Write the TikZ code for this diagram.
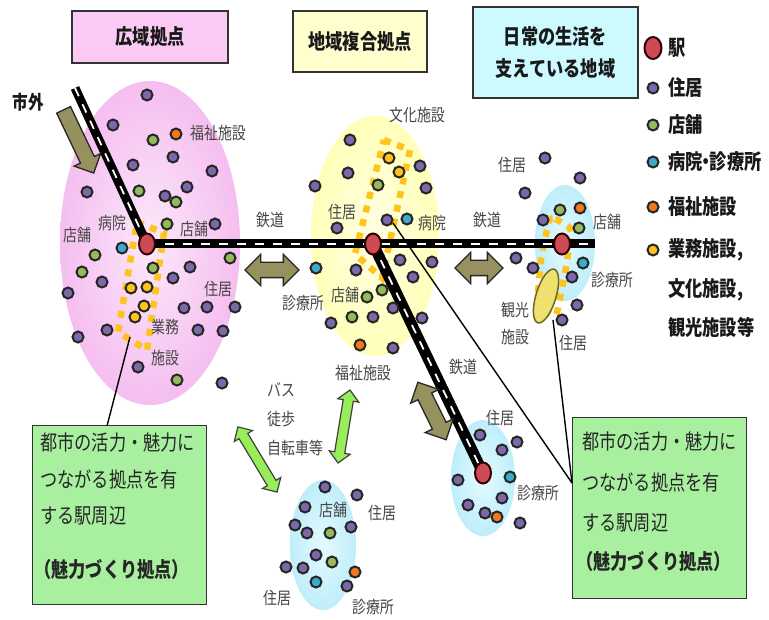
\documentclass[tikz,border=0pt]{standalone}
\usepackage{fontspec}
\newfontfamily\jp{Noto Sans CJK JP}[FakeStretch=0.82]
\usetikzlibrary{shapes.arrows,shapes.geometric}
\definecolor{cresid}{RGB}{125,105,170}
\definecolor{cshop}{RGB}{150,185,90}
\definecolor{chosp}{RGB}{60,170,200}
\definecolor{cwelf}{RGB}{240,120,30}
\definecolor{cbiz}{RGB}{255,195,30}
\definecolor{cstat}{RGB}{205,75,85}
\definecolor{pinkout}{RGB}{245,190,240}
\definecolor{pinkin}{RGB}{252,232,250}
\definecolor{yelout}{RGB}{255,255,185}
\definecolor{yelin}{RGB}{255,255,228}
\definecolor{cyaout}{RGB}{190,238,250}
\definecolor{cyain}{RGB}{228,250,255}
\definecolor{tpink}{RGB}{250,202,245}
\definecolor{tyel}{RGB}{255,255,205}
\definecolor{tcya}{RGB}{205,250,255}
\definecolor{cgreen}{RGB}{168,240,160}
\definecolor{colive}{RGB}{150,145,95}
\definecolor{cgarr}{RGB}{150,238,90}
\definecolor{labc}{RGB}{70,70,70}
\definecolor{kanko}{RGB}{240,225,110}
\begin{document}
\begin{tikzpicture}[x=1pt,y=-1pt,
 dotbase/.style={circle, draw=black!85, line width=2pt, minimum size=11pt, inner sep=0pt},
 resid/.style={dotbase, fill=cresid},
 shop/.style={dotbase, fill=cshop},
 hosp/.style={dotbase, fill=chosp},
 welf/.style={dotbase, fill=cwelf},
 biz/.style={dotbase, fill=cbiz},
 station/.style={ellipse, draw=black!80!red, line width=2pt, fill=cstat, minimum width=16pt, minimum height=21pt, inner sep=0pt},
 lab/.style={font=\jp\fontsize{17}{19}\selectfont, text=labc, inner sep=0pt},
 legtxt/.style={font=\jp\bfseries\fontsize{21}{23}\selectfont, text=black!90, anchor=west, inner sep=0pt},
 boxtxt/.style={font=\jp\fontsize{21}{23}\selectfont, text=black!85, anchor=west, inner sep=0pt},
 boxbold/.style={boxtxt, font=\jp\bfseries\fontsize{21}{23}\selectfont},
 titlebox/.style={draw=black!80, line width=1.2pt, inner sep=0pt, font=\jp\bfseries\fontsize{21}{32}\selectfont, align=center, text=black!90},
 gbox/.style={draw=black!80, line width=1pt, fill=cgreen, inner sep=0pt},
 railo/.style={line width=9pt, black},
 raili/.style={line width=1.8pt, white, dash pattern=on 9pt off 9pt},
 ydash/.style={draw=cbiz, line width=6.5pt, dash pattern=on 7pt off 7pt},
 oarrow/.style={double arrow, draw=black!85, line width=1.3pt, fill=colive, inner xsep=0pt, inner ysep=7pt, double arrow head extend=8pt, minimum width=0pt},
 garrow/.style={double arrow, draw=black!75, line width=1.2pt, fill=cgarr, inner xsep=0pt, inner ysep=4.5pt, double arrow head extend=5.5pt, minimum width=0pt},
 sarrow/.style={single arrow, draw=black!85, line width=1.3pt, fill=colive, inner xsep=0pt, inner ysep=7pt, single arrow head extend=7pt, minimum width=0pt},
 callout/.style={line width=1.4pt, black}
]
\useasboundingbox (0,0) rectangle (769,620);
\fill[white] (0,0) rectangle (769,620);

% regions
\shade[inner color=pinkin, outer color=pinkout] (150,243) ellipse [x radius=90pt, y radius=162pt];
\shade[inner color=yelin, outer color=yelout] (375,236) ellipse [x radius=64pt, y radius=120pt];
\shade[inner color=cyain, outer color=cyaout] (565,243) ellipse [x radius=30pt, y radius=58pt];
\shade[inner color=cyain, outer color=cyaout] (483,478) ellipse [x radius=32pt, y radius=58pt];
\shade[inner color=cyain, outer color=cyaout] (323,545) ellipse [x radius=33pt, y radius=65pt];

% dashed business areas
\draw[ydash] (137,222) -- (164,233) -- (147,350) -- (118,332) -- cycle;
\draw[ydash] (384,140) -- (410,150) -- (382,278) -- (355,254) -- cycle;
\draw[ydash, rounded corners=6pt] (550,216) -- (572,228) -- (566,268) -- (556,318) -- (537,306) -- (541,258) -- cycle;

% rails
\coordinate (railTop) at (75,88);
\coordinate (railEnd) at (595,244);
\coordinate (pL) at (147,244);
\coordinate (pC) at (373,244);
\coordinate (pR) at (562,244);
\coordinate (pB) at (483,473);
\draw[railo] (railTop) -- (pL);
\draw[railo] (pL) -- (railEnd);
\draw[railo, line width=11pt] (pC) -- (pB);
\draw[raili] (railTop) -- (pL);
\draw[raili] (pL) -- (railEnd);
\draw[raili] (pC) -- (pB);

% tourism ellipse
\draw[draw=olive!70!black, line width=1.5pt, fill=kanko, rotate around={-17:(546,296)}] (546,296) ellipse [x radius=10pt, y radius=28pt];

% boxes
\node[gbox, minimum width=174pt, minimum height=178pt] (boxL) at (119,515) {};
\node[gbox, minimum width=174pt, minimum height=180pt] (boxR) at (659,508) {};
\coordinate (cL) at (130,337);
\coordinate (cLb) at (107,426);
\coordinate (cC) at (393,223);
\coordinate (cR) at (553,320);
\coordinate (cRb) at (572,483);
\draw[callout] (cL) -- (cLb);
\draw[callout] (cC) -- (cRb);
\draw[callout] (cR) -- (cRb);

\node[boxtxt] (tL1) at (40,443) {都市の活力・魅力に};
\node[boxtxt] (tL2) at (40,479) {つながる拠点を有};
\node[boxtxt] (tL3) at (40,516) {する駅周辺};
\node[boxbold] (tL4) at (34,570) {（魅力づくり拠点）};
\node[boxtxt] (tR1) at (582,442) {都市の活力・魅力に};
\node[boxtxt] (tR2) at (582,482) {つながる拠点を有};
\node[boxtxt] (tR3) at (582,523) {する駅周辺};
\node[boxbold] (tR4) at (576,562) {（魅力づくり拠点）};

% arrows
\node[oarrow, minimum height=54pt] (aH1) at (272,270) {};
\node[oarrow, minimum height=48pt] (aH2) at (479,268) {};
\node[oarrow, minimum height=64pt, rotate=-63.8] (aD) at (432,411) {};
\node[sarrow, minimum height=70pt, rotate=-64.5] (aOut) at (77,138) {};
\node[garrow, minimum height=76pt, rotate=-59] (gA1) at (257.5,459.5) {};
\node[garrow, minimum height=74pt, rotate=-99.3] (gA2) at (344,426.5) {};

% dots: left region
\foreach \x/\y [count=\i] in {147/95,113/125,173/157,133/165,212/171,187/187,165/196,87/192,215/224,102/282,68/293,173/278,190/267,184/308,207/307,235/307,78/337,107/330,198/330,223/331,138/367,222/383}
  \node[resid] (lr\i) at (\x,\y) {};
\foreach \x/\y [count=\i] in {153/140,176/202,139/191,167/224,95/255,82/272,153/268,230/258,177/380}
  \node[shop] (ls\i) at (\x,\y) {};
\node[hosp] (lh1) at (122,248) {};
\node[welf] (lw1) at (176,134) {};
\foreach \x/\y [count=\i] in {131/288,147/287,144/306,135/317}
  \node[biz] (lb\i) at (\x,\y) {};

% dots: center region
\foreach \x/\y [count=\i] in {350/140,420/166,348/173,315/186,426/188,387/220,337/228,400/260,432/262,356/270,413/277,393/308,422/318,331/323,373/317,393/348}
  \node[resid] (cr\i) at (\x,\y) {};
\foreach \x/\y [count=\i] in {378/185,382/290,367/297,352/317}
  \node[shop] (cs\i) at (\x,\y) {};
\node[hosp] (ch1) at (407,219) {};
\node[hosp] (ch2) at (316,268) {};
\node[welf] (cw1) at (360,345) {};
\node[biz] (cb1) at (389,158) {};
\node[biz] (cb2) at (399,172) {};

% dots: bottom center
\foreach \x/\y [count=\i] in {325/487,357/495,305/507,295/525,307/533,351/527,316/555,286/567,303/568,347/586}
  \node[resid] (br\i) at (\x,\y) {};
\node[shop] (bs1) at (330,533) {};
\node[shop] (bs2) at (332,562) {};
\node[welf] (bw1) at (355,572) {};
\node[hosp] (bh1) at (316,582) {};

% dots: bottom right
\foreach \x/\y [count=\i] in {480/435,502/450,517/442,458/480,502/498,468/505,485/513,520/523}
  \node[resid] (dr\i) at (\x,\y) {};
\node[hosp] (dh1) at (510,477) {};
\node[welf] (dw1) at (497,517) {};

% dots: right
\foreach \x/\y [count=\i] in {545/158,580/178,525/193,543/220,516/258,533/268,572/277,577/305,562/320}
  \node[resid] (rr\i) at (\x,\y) {};
\node[shop] (rs1) at (560,210) {};
\node[shop] (rs2) at (579,228) {};
\node[welf] (rw1) at (580,208) {};
\node[hosp] (rh1) at (583,263) {};

% stations
\node[station] (stL) at (pL) {};
\node[station] (stC) at (pC) {};
\node[station] (stR) at (pR) {};
\node[station] (stB) at (pB) {};

% labels
\node[lab] (l01) at (218,133) {福祉施設};
\node[lab] (l02) at (112,223) {病院};
\node[lab] (l03) at (77,235) {店舗};
\node[lab] (l04) at (194,229) {店舗};
\node[lab] (l05) at (218,289) {住居};
\node[lab] (l06) at (165,327) {業務};
\node[lab] (l07) at (165,358) {施設};
\node[lab] (l08) at (270,220) {鉄道};
\node[lab] (l09) at (487,220) {鉄道};
\node[lab] (l10) at (463,367) {鉄道};
\node[lab] (l11) at (417,115) {文化施設};
\node[lab] (l12) at (342,212) {住居};
\node[lab] (l13) at (432,223) {病院};
\node[lab] (l14) at (303,303) {診療所};
\node[lab] (l15) at (345,295) {店舗};
\node[lab] (l16) at (363,373) {福祉施設};
\node[lab, anchor=west] (l17) at (267,390) {バス};
\node[lab, anchor=west] (l18) at (267,419) {徒歩};
\node[lab, anchor=west] (l19) at (267,448) {自転車等};
\node[lab] (l20) at (333,510) {店舗};
\node[lab] (l21) at (382,513) {住居};
\node[lab] (l22) at (277,598) {住居};
\node[lab] (l23) at (373,607) {診療所};
\node[lab] (l24) at (500,418) {住居};
\node[lab] (l25) at (538,493) {診療所};
\node[lab] (l26) at (512,165) {住居};
\node[lab] (l27) at (607,222) {店舗};
\node[lab] (l28) at (612,280) {診療所};
\node[lab] (l29) at (515,310) {観光};
\node[lab] (l30) at (515,337) {施設};
\node[lab] (l31) at (573,343) {住居};
\node[lab, font=\jp\bfseries\fontsize{19}{21}\selectfont, text=black!90] (l32) at (28,102) {市外};

% title boxes
\node[titlebox, fill=tpink, minimum width=156pt, minimum height=52pt] (tb1) at (150,37) {広域拠点};
\node[titlebox, fill=tyel, minimum width=134pt, minimum height=61pt] (tb2) at (360,41.5) {地域複合拠点};
\node[titlebox, fill=tcya, minimum width=165pt, minimum height=91pt] (tb3) at (555.5,52.5) {日常の生活を\\支えている地域};

% legend
\node[station, minimum width=17pt, minimum height=22pt] (kS) at (653,48) {};
\node[resid] (kR) at (653,88) {};
\node[shop] (kSh) at (653,125) {};
\node[hosp] (kH) at (653,162) {};
\node[welf] (kW) at (653,207) {};
\node[biz] (kB) at (653,250) {};
\node[legtxt] (kt1) at (668,48) {駅};
\node[legtxt] (kt2) at (668,88) {住居};
\node[legtxt] (kt3) at (668,125) {店舗};
\node[legtxt] (kt4) at (668,162) {病院\kern-5pt・\kern-5pt診療所};
\node[legtxt] (kt5) at (668,207) {福祉施設};
\node[legtxt] (kt6) at (668,250) {業務施設,};
\node[legtxt] (kt7) at (668,290) {文化施設,};
\node[legtxt] (kt8) at (668,327) {観光施設等};
\end{tikzpicture}
\end{document}
